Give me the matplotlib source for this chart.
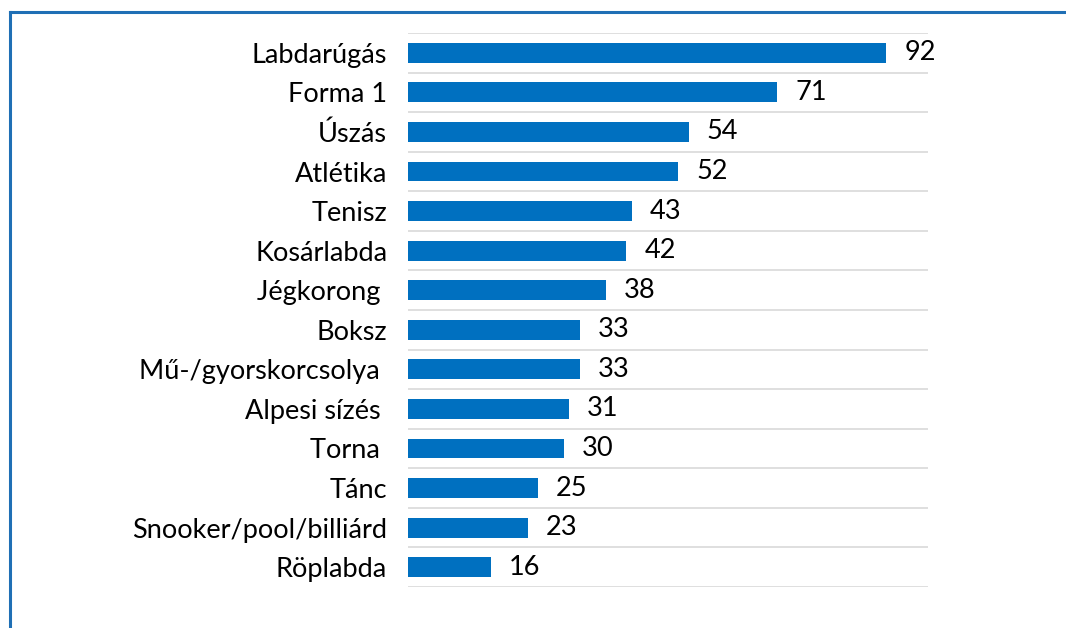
import matplotlib.pyplot as plt
from matplotlib.lines import Line2D

categories = ["Labdarúgás", "Forma 1", "Úszás", "Atlétika", "Tenisz", "Kosárlabda",
              "Jégkorong ", "Boksz", "Mű-/gyorskorcsolya ", "Alpesi sízés ",
              "Torna ", "Tánc", "Snooker/pool/billiárd", "Röplabda"]
values = [92, 71, 54, 52, 43, 42, 38, 33, 33, 31, 30, 25, 23, 16]

bar_color = "#0070C0"
plt.rcParams['font.family'] = ['Lato', 'DejaVu Sans']

fig = plt.figure(figsize=(10.66, 6.28), dpi=100)
ax = fig.add_axes([408/1066, 1 - 587/628, 520/1066, 554/628])

pos = list(range(len(categories)))
ax.barh(pos, values, height=0.5, color=bar_color, zorder=3)
for p, v in zip(pos, values):
    ax.annotate(str(v), (v, p), xytext=(13, 0), textcoords="offset points",
                va="center", ha="left", fontsize=19.5, color="black")

ax.set_xlim(0, 100)
ax.set_ylim(len(categories) - 0.5, -0.5)
ax.set_yticks(pos)
ax.set_yticklabels(categories, fontsize=19.5)
ax.tick_params(axis="y", length=0, pad=15)
ax.set_xticks([])
ax.set_yticks([p + 0.5 for p in range(-1, len(categories))], minor=True)
ax.tick_params(axis="y", which="minor", length=0)
ax.grid(True, axis="y", which="minor", color="#d9d9d9", linewidth=1.2, zorder=0)
for s in ax.spines.values():
    s.set_visible(False)

# blue frame at top and left
fig.add_artist(Line2D([10/1066, 10/1066], [0, 1 - 12/628], color="#1F6FB5", linewidth=2.2))
fig.add_artist(Line2D([10/1066, 1], [1 - 12/628, 1 - 12/628], color="#1F6FB5", linewidth=2.2))

fig.savefig("out.png", dpi=100)
